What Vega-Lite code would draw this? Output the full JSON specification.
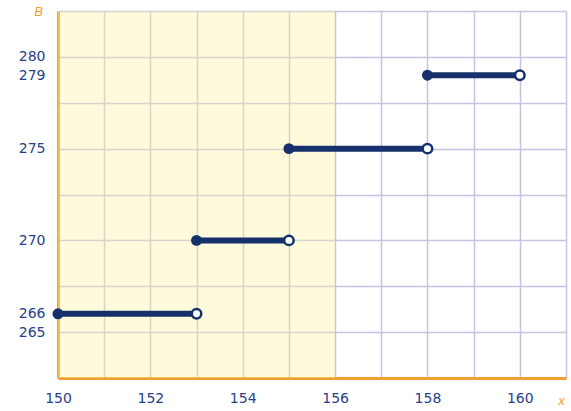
{
  "$schema": "https://vega.github.io/schema/vega-lite/v6.json",
  "width": 508,
  "height": 367,
  "autosize": "none",
  "padding": {"left": 58, "top": 11, "right": 5, "bottom": 33},
  "background": "#ffffff",
  "config": {"view": {"stroke": null}},
  "datasets": {
    "steps": [
      {"x1": 150, "x2": 153, "y": 266},
      {"x1": 153, "x2": 155, "y": 270},
      {"x1": 155, "x2": 158, "y": 275},
      {"x1": 158, "x2": 160, "y": 279}
    ],
    "shade": [{"a": 150, "b": 156}]
  },
  "resolve": {"axis": {"y": "independent"}},
  "layer": [
    {
      "data": {"name": "shade"},
      "mark": {"type": "rect", "color": "#fbf39a", "opacity": 0.35},
      "encoding": {
        "x": {"field": "a", "type": "quantitative", "scale": {"domain": [150, 161]}},
        "x2": {"field": "b"}
      }
    },
    {
      "data": {"name": "steps"},
      "mark": {"type": "rule", "color": "#15306b", "strokeWidth": 6},
      "encoding": {
        "x": {
          "field": "x1", "type": "quantitative",
          "scale": {"domain": [150, 161], "nice": false, "zero": false},
          "axis": {
            "values": [150, 151, 152, 153, 154, 155, 156, 157, 158, 159, 160, 161],
            "grid": true, "gridColor": "#c3c3e3", "gridWidth": 1.5, "gridOpacity": 1,
            "labelExpr": "datum.value % 2 == 0 && datum.value < 161 ? datum.label : ''",
            "labelOverlap": false, "labelFlush": false,
            "labelColor": "#27408a", "labelFontSize": 14, "labelFont": "DejaVu Sans",
            "labelPadding": 13,
            "ticks": false,
            "domainColor": "#f0a030", "domainWidth": 3,
            "title": "x", "titleColor": "#f0a030", "titleFontSize": 13,
            "titleFontWeight": "normal", "titleFontStyle": "italic",
            "titleX": 503, "titleY": 22, "titleBaseline": "middle", "titleAlign": "center"
          }
        },
        "x2": {"field": "x2"},
        "y": {
          "field": "y", "type": "quantitative",
          "scale": {"domain": [262.5, 282.5], "nice": false, "zero": false},
          "axis": {
            "orient": "left",
            "values": [262.5, 265, 267.5, 270, 272.5, 275, 277.5, 280, 282.5],
            "grid": true, "gridColor": "#c3c3e3", "gridWidth": 1.5, "gridOpacity": 1,
            "ticks": false, "labels": false,
            "domainColor": "#f0a030", "domainWidth": 3,
            "title": "B", "titleColor": "#f0a030", "titleFontSize": 13,
            "titleFontWeight": "normal", "titleFontStyle": "italic",
            "titleAngle": 0, "titleX": -20, "titleY": 0, "titleBaseline": "middle", "titleAlign": "center"
          }
        }
      }
    },
    {
      "data": {"name": "steps"},
      "mark": {"type": "point", "filled": true, "color": "#15306b", "size": 120, "opacity": 1},
      "encoding": {
        "x": {"field": "x1", "type": "quantitative"},
        "y": {
          "field": "y", "type": "quantitative",
          "axis": {
            "orient": "left",
            "values": [265, 266, 270, 275, 279, 280],
            "grid": false, "ticks": false, "domain": false,
            "labelOverlap": false, "labelFlush": false,
            "labelColor": "#27408a", "labelFontSize": 14, "labelFont": "DejaVu Sans",
            "labelPadding": 13,
            "title": null
          }
        }
      }
    },
    {
      "data": {"name": "steps"},
      "mark": {"type": "point", "filled": false, "fill": "#ffffff", "color": "#15306b", "strokeWidth": 2.5, "size": 90, "opacity": 1},
      "encoding": {
        "x": {"field": "x2", "type": "quantitative"},
        "y": {"field": "y", "type": "quantitative", "axis": null}
      }
    }
  ]
}
